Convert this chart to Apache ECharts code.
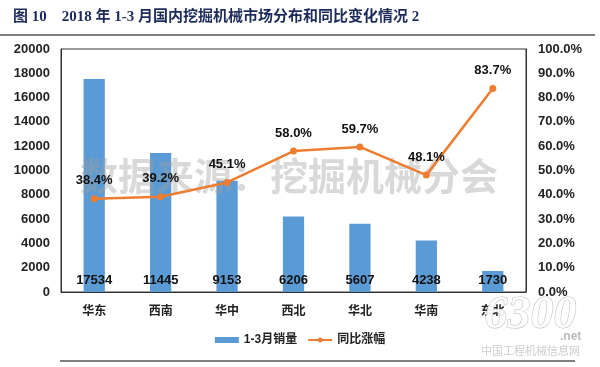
<!DOCTYPE html>
<html><head><meta charset="utf-8">
<script src="https://cdn.jsdelivr.net/npm/echarts@6/dist/echarts.min.js"></script>
<style>html,body{margin:0;padding:0;background:#fff}#c{width:600px;height:367px}</style>
</head><body><div id="c"></div>
<script>
var categories = ['华东','西南','华中','西北','华北','华南','东北'];
var sales = [17534, 11445, 9153, 6206, 5607, 4238, 1730];
var growth = [38.4, 39.2, 45.1, 58.0, 59.7, 48.1, 83.7];
var leftTicks = {min: 0, max: 20000, interval: 2000};
var rightTicks = {min: 0, max: 100, interval: 10};

var chart = echarts.init(document.getElementById('c'));
var F = '"Liberation Sans", Arial, "Noto Sans CJK SC", sans-serif';
chart.setOption({
  animation: false,
  backgroundColor: '#fff',
  textStyle: {fontFamily: F},
  title: {
    text: '图 10    2018 年 1-3 月国内挖掘机械市场分布和同比变化情况 2',
    left: 8, top: 5,
    textStyle: {fontSize: 15, fontWeight: 'bold', color: '#1c2b5a', fontFamily: '"Liberation Serif", "Noto Sans CJK SC", serif'}
  },
  grid: {left: 61, right: 74, top: 49, bottom: 75},
  legend: {
    bottom: 16, left: 'center',
    itemWidth: 24, itemHeight: 6, itemGap: 10,
    textStyle: {fontSize: 12, fontWeight: 'bold', color: '#222'},
    data: [{name: '1-3月销量', icon: 'rect'}, {name: '同比涨幅'}]
  },
  xAxis: {
    type: 'category', data: categories,
    axisLine: {show: true, lineStyle: {color: '#333', width: 1}},
    axisTick: {show: false},
    axisLabel: {fontSize: 12, fontWeight: 'bold', color: '#222', margin: 14}
  },
  yAxis: [{
    type: 'value', min: leftTicks.min, max: leftTicks.max, interval: leftTicks.interval,
    axisLine: {show: true, lineStyle: {color: '#333'}},
    splitLine: {show: false},
    axisLabel: {fontSize: 13, fontWeight: 'bold', color: '#222', margin: 11,
      formatter: function (v) { return String(v); }}
  }, {
    type: 'value', min: rightTicks.min, max: rightTicks.max, interval: rightTicks.interval,
    axisLine: {show: true, lineStyle: {color: '#333'}},
    splitLine: {show: false},
    axisLabel: {fontSize: 13, fontWeight: 'bold', color: '#222', margin: 12,
      formatter: function (v) { return v.toFixed(1) + '%'; }}
  }],
  series: [{
    name: '1-3月销量', type: 'bar', data: sales, barWidth: '32%',
    itemStyle: {color: '#5B9BD5'},
    label: {show: true, position: 'insideBottom', distance: 5, fontSize: 13, fontWeight: 'bold', color: '#111'},
    z: 2
  }, {
    name: '同比涨幅', type: 'line', yAxisIndex: 1, data: growth,
    lineStyle: {color: '#ED7D31', width: 2.5},
    itemStyle: {color: '#ED7D31'},
    symbol: 'circle', symbolSize: 7,
    label: {show: true, position: 'top', distance: 8, fontSize: 13, fontWeight: 'bold', color: '#111',
      formatter: function (p) { return p.value.toFixed(1) + '%'; }},
    z: 4
  }],
  graphic: [
    {type: 'rect', shape: {x: 61, y: 49, width: 465, height: 243}, style: {fill: 'none', stroke: '#333', lineWidth: 1}, silent: true, z: 1},
    {type: 'line', shape: {x1: 0, y1: 35, x2: 595, y2: 35}, style: {stroke: '#555', lineWidth: 1.5}},
    {type: 'line', shape: {x1: 60, y1: 361, x2: 575, y2: 361}, style: {stroke: '#555', lineWidth: 1.5}},
    {type: 'text', left: 80, top: 157, z: 3,
      style: {text: '数据来源：挖掘机械分会', fontSize: 38, fontWeight: 'bold', fill: 'rgba(160,160,160,0.4)', fontFamily: '"Noto Sans CJK SC", sans-serif'}},
    {type: 'text', left: 484, top: 293, z: 10,
      style: {text: '6300', fontSize: 46, fontStyle: 'italic', fontWeight: 'bold', fill: 'rgba(255,255,255,0.9)', stroke: 'rgba(170,170,170,0.8)', lineWidth: 1, fontFamily: '"Liberation Serif", serif'}},
    {type: 'text', left: 560, top: 331, z: 10,
      style: {text: '.net', fontSize: 12, fontWeight: 'bold', fill: 'rgba(180,180,180,0.9)', fontFamily: F}},
    {type: 'text', left: 481, top: 345, z: 10,
      style: {text: '中国工程机械信息网', fontSize: 11, fill: 'rgba(200,200,200,0.9)', fontFamily: '"Noto Sans CJK SC", sans-serif'}}
  ]
});
</script></body></html>
